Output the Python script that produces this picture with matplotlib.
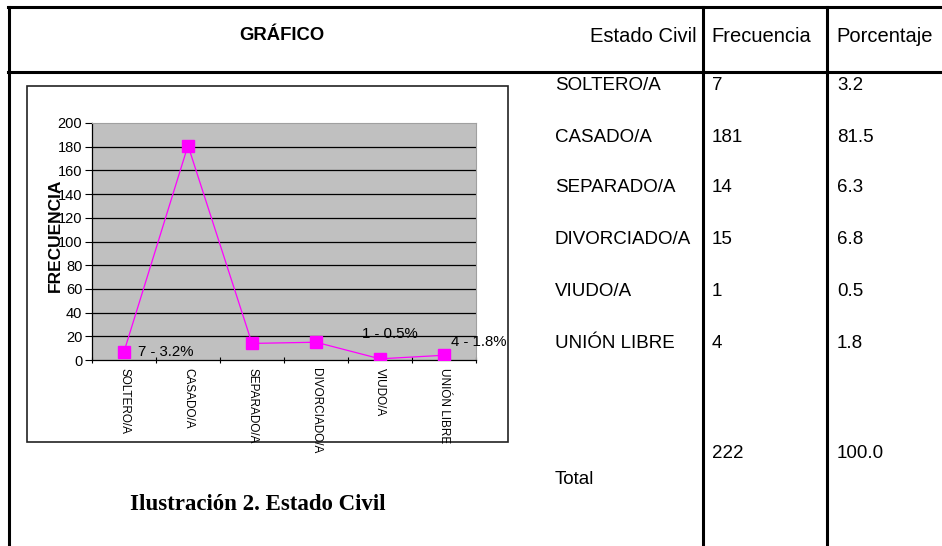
import matplotlib.pyplot as plt
from matplotlib.lines import Line2D
from matplotlib.patches import Rectangle

ESTADOS = ["SOLTERO/A", "CASADO/A", "SEPARADO/A", "DIVORCIADO/A", "VIUDO/A", "UNIÓN LIBRE"]
FRECUENCIA = [7, 181, 14, 15, 1, 4]
PORCENTAJE = [3.2, 81.5, 6.3, 6.8, 0.5, 1.8]
TOTAL_FRECUENCIA = 222
TOTAL_PORCENTAJE = 100.0
Y_TICKS = list(range(0, 201, 20))
# only these points show a "n - p%" label in the original
ETIQUETADOS = [0, 4, 5]

W, H = 942, 546
MAGENTA = "#FF00FF"

plt.rcParams["font.family"] = ["Liberation Sans", "DejaVu Sans"]


def fx(x):
    return x / W


def fy(y):
    return 1 - y / H


def hline(fig, y, x0, x1, lw=2.2):
    fig.add_artist(Line2D([fx(x0), fx(x1)], [fy(y), fy(y)], color="black", lw=lw))


def vline(fig, x, y0, y1, lw=2.2):
    fig.add_artist(Line2D([fx(x), fx(x)], [fy(y0), fy(y1)], color="black", lw=lw))


def draw_table(fig):
    # borders of the word-style table
    hline(fig, 7, 8, W)
    hline(fig, 71.5, 8, W)
    vline(fig, 9, 7, H)
    vline(fig, 703, 7, H)
    vline(fig, 827, 7, H)

    fig.text(fx(282), fy(36), "GRÁFICO", fontsize=13.3, fontweight="bold",
             ha="center", va="center")
    fig.text(fx(697), fy(37), "Estado Civil", fontsize=14.5, ha="right", va="center")
    fig.text(fx(711), fy(37), "Frecuencia", fontsize=14.5, ha="left", va="center")
    fig.text(fx(836), fy(37), "Porcentaje", fontsize=14.5, ha="left", va="center")

    row_y = [85, 137, 188, 240, 291, 343]
    for i, estado in enumerate(ESTADOS):
        fig.text(fx(555), fy(row_y[i]), estado, fontsize=13.5, va="center")
        fig.text(fx(712), fy(row_y[i]), str(FRECUENCIA[i]), fontsize=13.5, va="center")
        fig.text(fx(837), fy(row_y[i]), f"{PORCENTAJE[i]:.1f}", fontsize=13.5, va="center")

    fig.text(fx(712), fy(454), str(TOTAL_FRECUENCIA), fontsize=13.5, va="center")
    fig.text(fx(837), fy(454), f"{TOTAL_PORCENTAJE:.1f}", fontsize=13.5, va="center")
    fig.text(fx(555), fy(480), "Total", fontsize=13.5, va="center")

    fig.text(fx(258), fy(504), "Ilustración 2. Estado Civil", fontsize=16.5,
             fontweight="bold", family=["Liberation Serif", "DejaVu Serif"],
             ha="center", va="center")


def draw_chart(fig):
    # white chart area with thin frame
    fig.add_artist(Rectangle((fx(27), fy(442)), fx(508) - fx(27), fy(86) - fy(442),
                             facecolor="white", edgecolor="#222222", lw=1.2,
                             transform=fig.transFigure, zorder=0))

    ax = fig.add_axes([fx(92), fy(360), fx(476) - fx(92), fy(123) - fy(360)])
    ax.set_facecolor("#C0C0C0")
    x = list(range(len(ESTADOS)))
    ax.plot(x, FRECUENCIA, color=MAGENTA, lw=0.9, marker="s", markersize=8.5,
            markerfacecolor=MAGENTA, markeredgecolor=MAGENTA, zorder=3)

    ax.set_xlim(-0.5, len(ESTADOS) - 0.5)
    ax.set_ylim(0, 200)
    ax.set_yticks(Y_TICKS)
    ax.tick_params(axis="y", labelsize=10.5, length=5, width=0.8, pad=2)
    for t in Y_TICKS[1:-1]:
        ax.axhline(t, color="black", lw=0.9, zorder=1)

    ax.set_xticks(x)
    ax.set_xticklabels(ESTADOS, rotation=270, fontsize=8.5)
    ax.tick_params(axis="x", length=0, pad=6)
    ax.set_xticks([i - 0.5 for i in range(len(ESTADOS) + 1)], minor=True)
    ax.tick_params(axis="x", which="minor", length=4, width=0.8, direction="inout")

    for side in ["top", "right"]:
        ax.spines[side].set_color("#A0A0A0")
        ax.spines[side].set_linewidth(0.8)
    for side in ["left", "bottom"]:
        ax.spines[side].set_linewidth(0.9)

    # the axis title sits on top of the tick labels, like in the original
    ax.set_ylabel("FRECUENCIA", fontsize=12.5, fontweight="bold", va="center")
    ax.yaxis.set_label_coords(-0.096, 0.527)

    offsets = {0: (14, 0, "left", "center"), 4: (10, 25, "center", "center"),
               5: (35, 13, "center", "center")}
    for i in ETIQUETADOS:
        dx, dy, ha, va = offsets[i]
        ax.annotate(f"{FRECUENCIA[i]} - {PORCENTAJE[i]}%", (x[i], FRECUENCIA[i]),
                    xytext=(dx, dy), textcoords="offset pixels", fontsize=10.8,
                    ha=ha, va=va, annotation_clip=False, zorder=4)


def main():
    fig = plt.figure(figsize=(W / 100, H / 100), dpi=100)
    draw_table(fig)
    draw_chart(fig)
    fig.savefig("out.png", dpi=100)


if __name__ == "__main__":
    main()
